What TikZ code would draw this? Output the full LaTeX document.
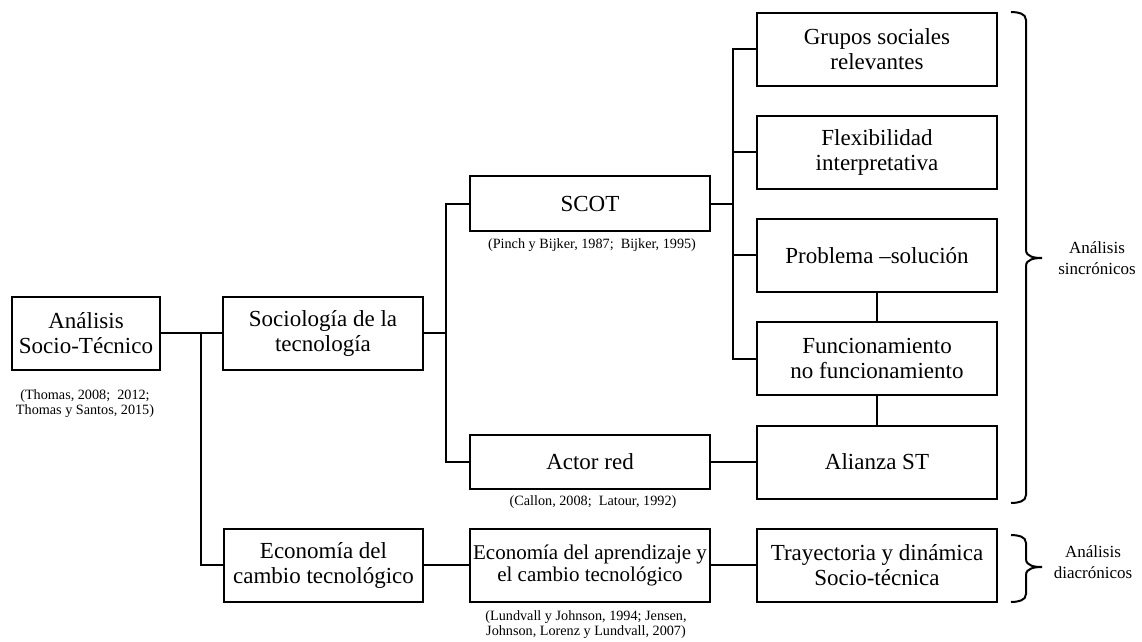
\documentclass[tikz,border=0pt]{standalone}
\usepackage{fontspec}
\setmainfont{Liberation Serif}

\begin{document}
\begin{tikzpicture}[x=1pt, y=-1pt,
  box/.style = {shape=rectangle, draw, line width=2pt, align=center,
    inner sep=0pt, minimum width=240pt, minimum height=73pt,
    font=\fontsize{23}{25}\selectfont},
  cite/.style = {align=center, inner sep=0pt,
    font=\fontsize{14.2}{15}\selectfont},
  side/.style = {align=center, inner sep=0pt,
    font=\fontsize{17}{21}\selectfont},
  link/.style = {line width=2pt}]
  \useasboundingbox (0,0) rectangle (1142,641);
  % first level
  \node[box, minimum width=148pt] (ast) at (86,333) {Análisis\\Socio-Técnico};
  \node[cite] (astcite) at (85,404) {(Thomas, 2008;~ 2012;\\Thomas y Santos, 2015)};
  \node[box, minimum width=200pt] (soc) at (323,333) {Sociología de la\\tecnología};
  \node[box, minimum width=199pt] (eco) at (323.5,565) {Economía del\\cambio tecnológico};
  % second level
  \node[box, minimum height=55pt] (scot) at (590,203.5) {SCOT};
  \node[cite] (scotcite) at (592,245) {(Pinch y Bijker, 1987;~ Bijker, 1995)};
  \node[box, minimum height=54pt] (actor) at (590,462) {Actor red};
  \node[cite] (actorcite) at (593,502) {(Callon, 2008;~ Latour, 1992)};
  \node[box, font=\fontsize{21}{22}\selectfont] (apr) at (590,565)
    {Economía del aprendizaje y\\el cambio tecnológico};
  \node[cite] (aprcite) at (586,624.5)
    {(Lundvall y Johnson, 1994; Jensen,\\Johnson, Lorenz y Lundvall, 2007)};
  % third level
  \node[box] (grupos) at (877,49) {Grupos sociales\\relevantes};
  \node[box] (flex) at (877,152.2) {Flexibilidad\\interpretativa};
  \node[box] (prob) at (877,255.4) {Problema --solución};
  \node[box] (func) at (877,358.6) {Funcionamiento\\no funcionamiento};
  \node[box] (alianza) at (877,462) {Alianza ST};
  \node[box] (tray) at (877,565) {Trayectoria y dinámica\\Socio-técnica};
  % connectors
  \coordinate (j1) at (201,333);
  \coordinate (j2) at (446,333);
  \coordinate (j3) at (733,203.5);
  \draw[link] (ast) -- (soc);
  \draw[link] (j1) |- (eco.west);
  \draw[link] (soc.east) -- (j2);
  \draw[link] (scot.west) -| (j2) |- (actor.west);
  \draw[link] (scot.east) -- (j3);
  \draw[link] (grupos.west) -| (j3) |- (func.west);
  \draw[link] (flex.west) -- (flex.west -| j3);
  \draw[link] (prob.west) -- (prob.west -| j3);
  \draw[link] (prob) -- (func);
  \draw[link] (func) -- (alianza);
  \draw[link] (actor) -- (alianza);
  \draw[link] (eco) -- (apr);
  \draw[link] (apr) -- (tray);
  % braces
  \draw[link] (1011,12) to[out=0,in=90] (1026,20) -- (1026,250)
    to[out=-90,in=180] (1042,258) to[out=180,in=90] (1026,266)
    -- (1026,495) to[out=-90,in=0] (1011,503);
  \draw[link] (1011,535) to[out=0,in=90] (1026,543) -- (1026,559)
    to[out=-90,in=180] (1042,567) to[out=180,in=90] (1026,575)
    -- (1026,594) to[out=-90,in=0] (1011,602);
  \node[side] (sincr) at (1097,258) {Análisis\\sincrónicos};
  \node[side] (diacr) at (1093,562) {Análisis\\diacrónicos};
\end{tikzpicture}
\end{document}
